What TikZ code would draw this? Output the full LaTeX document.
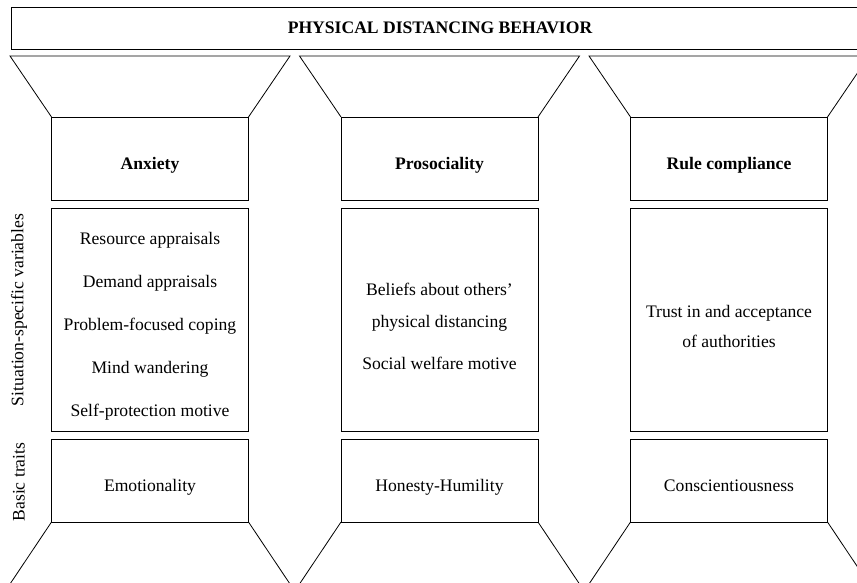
\documentclass[tikz,border=0pt]{standalone}
\usepackage{fontspec}
\setmainfont{Liberation Serif}
\usepackage{tikz}
\newcommand{\figfont}{\fontsize{17.6}{21}\selectfont}
\tikzstyle{cell}=[draw,line width=0.8pt,outer sep=0pt,minimum width=197pt]
\tikzstyle{head}=[cell,minimum height=83pt]
\tikzstyle{vars}=[cell,minimum height=223pt]
\tikzstyle{trait}=[cell,minimum height=83pt]
\tikzstyle{txt}=[align=center,yshift=-7pt]
\tikzstyle{oneline}=[yshift=-7pt,text height=12pt,text depth=4pt]
\tikzstyle{side}=[rotate=90]
\tikzstyle{funnel}=[draw,line width=0.8pt]

\begin{document}
\begin{tikzpicture}[x=1pt,y=-1pt,font=\figfont]
        \clip (0,0) rectangle (857,582);
        \node[cell,minimum width=858pt,minimum height=42pt,font={\figfont\bfseries}] (behavior) at (440,28) {PHYSICAL DISTANCING BEHAVIOR};
        % columns
        \node[head] (anxiety) at (150,158.5) {};
        \node[head] (prosocial) at (439.5,158.5) {};
        \node[head] (rules) at (729,158.5) {};
        \node[vars] (anxvars) at (150,319.5) {};
        \node[vars] (provars) at (439.5,319.5) {};
        \node[vars] (rulevars) at (729,319.5) {};
        \node[trait] (emotion) at (150,480.5) {};
        \node[trait] (honesty) at (439.5,480.5) {};
        \node[trait] (conscience) at (729,480.5) {};
        % texts
        \node[oneline,font={\figfont\bfseries}] (anxietytext) at (anxiety) {Anxiety};
        \node[oneline,font={\figfont\bfseries}] (prosocialtext) at (prosocial) {Prosociality};
        \node[oneline,font={\figfont\bfseries}] (rulestext) at (rules) {Rule compliance};
        \node[txt] (anxvarstext) at (anxvars) {Resource appraisals\\[22pt] Demand appraisals\\[22pt] Problem-focused coping\\[22pt] Mind wandering\\[22pt] Self-protection motive};
        \node[txt] (provarstext) at (provars) {Beliefs about others'\\[11pt] physical distancing\\[21pt] Social welfare motive};
        \node[txt] (rulevarstext) at (rulevars) {Trust in and acceptance\\[9pt] of authorities};
        \node[oneline] (emotiontext) at (emotion) {Emotionality};
        \node[oneline] (honestytext) at (honesty) {Honesty-Humility};
        \node[oneline] (consciencetext) at (conscience) {Conscientiousness};
        % side labels
        \node[side] (situational) at (19,310) {Situation-specific variables};
        \node[side] (basic) at (19,482) {Basic traits};
        % funnels
        \foreach \col/\low in {anxiety/emotion,prosocial/honesty,rules/conscience}{
          \draw[funnel] (\col.north west) -- ++(-41.5,-61) -- ++(280,0) -- (\col.north east);
          \draw[funnel] (\low.south west) -- ++(-41.5,62);
          \draw[funnel] (\low.south east) -- ++(41.5,62);
        }
      \end{tikzpicture}
\end{document}
